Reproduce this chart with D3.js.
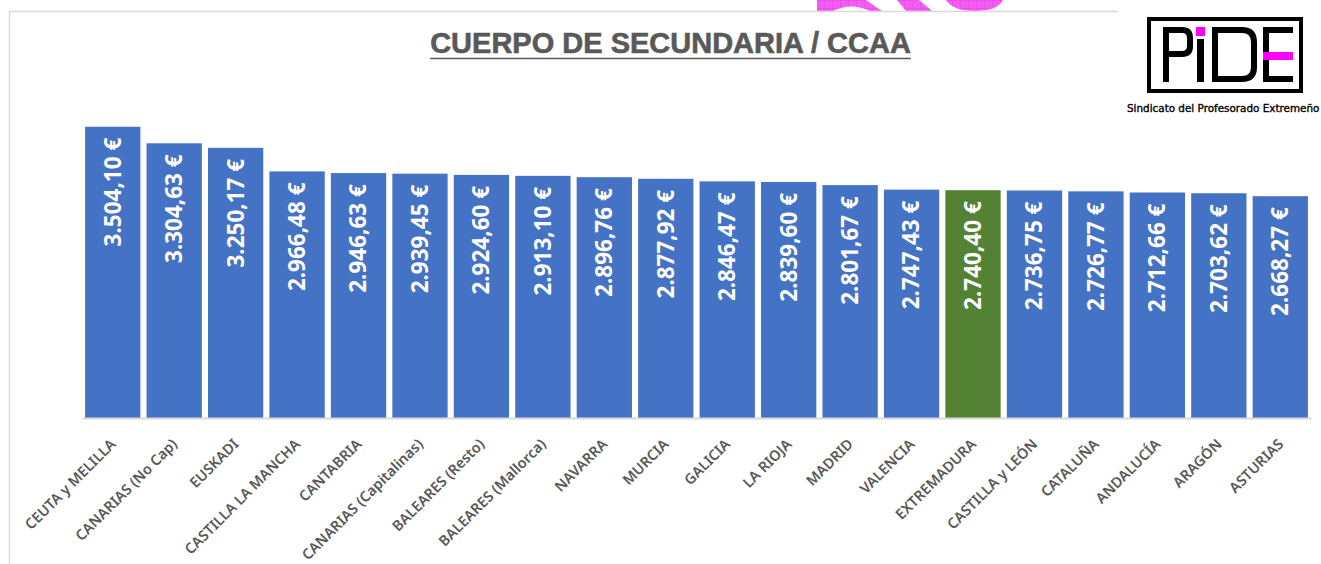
<!DOCTYPE html>
<html>
<head>
<meta charset="utf-8">
<script src="https://cdn.jsdelivr.net/npm/d3@7"></script>
<style>
  body { margin: 0; background: #fff; }
  svg { display: block; }
</style>
</head>
<body>
<script>
// datos: salario mensual cuerpo de secundaria por CCAA
var categories = ["CEUTA y MELILLA", "CANARIAS (No Cap)", "EUSKADI", "CASTILLA LA MANCHA",
                  "CANTABRIA", "CANARIAS (Capitalinas)", "BALEARES (Resto)", "BALEARES (Mallorca)",
                  "NAVARRA", "MURCIA", "GALICIA", "LA RIOJA", "MADRID", "VALENCIA",
                  "EXTREMADURA", "CASTILLA y LEÓN", "CATALUÑA", "ANDALUCÍA", "ARAGÓN", "ASTURIAS"];
var values = [3504.10, 3304.63, 3250.17, 2966.48, 2946.63, 2939.45, 2924.60, 2913.10,
              2896.76, 2877.92, 2846.47, 2839.60, 2801.67, 2747.43, 2740.40, 2736.75,
              2726.77, 2712.66, 2703.62, 2668.27];
var highlight = "EXTREMADURA";
var title = "CUERPO DE SECUNDARIA / CCAA";

var w = 1321, h = 564;
var svg = d3.select("body").append("svg").attr("width", w).attr("height", h);

// trozos rosas de la imagen de fondo (cortados arriba)
var defs = svg.append("defs");
var pat = defs.append("pattern").attr("id", "grid")
  .attr("width", 8).attr("height", 8).attr("patternUnits", "userSpaceOnUse");
pat.append("rect").attr("width", 8).attr("height", 8).attr("fill", "#f45cf4");
pat.append("path").attr("d", "M8,0 L0,0 L0,8").attr("fill", "none")
  .attr("stroke", "#d23fd2").attr("stroke-width", 0.7);
var blobs = ["M817,0 L817,11 L833,11 Q851,2 870,11 L882,11 L866,0 Z",
             "M897,0 L906,11 L932,11 L919,0 Z",
             "M946,0 Q953,11 975,11 Q997,11 1003,0 Z"];
svg.selectAll("path.blob").data(blobs).enter().append("path")
  .attr("class", "blob").attr("d", function(d) { return d; }).attr("fill", "url(#grid)");

// marco del grafico
svg.append("rect").attr("x", 9.5).attr("y", 11.5).attr("width", 1500).attr("height", 700)
  .attr("fill", "none").attr("stroke", "#d9d9d9").attr("stroke-width", 1.5);

// escalas
var x = d3.scaleBand().domain(categories).range([82, 1311]).paddingInner(0.1).paddingOuter(0.05);
var y = d3.scaleLinear().domain([0, 4000]).range([418, 85.5]);

var es = d3.formatLocale({ decimal: ",", thousands: ".", grouping: [3], currency: ["", " €"] });
var fmt = es.format("$,.2f");

// barras
svg.selectAll("rect.bar").data(values).enter().append("rect")
  .attr("class", "bar")
  .attr("x", function(d, i) { return x(categories[i]); })
  .attr("y", function(d) { return y(d); })
  .attr("width", x.bandwidth())
  .attr("height", function(d) { return y(0) - y(d); })
  .attr("fill", function(d, i) { return categories[i] === highlight ? "#548235" : "#4472c4"; });

// etiquetas de valor (verticales)
svg.selectAll("text.val").data(values).enter().append("text")
  .attr("class", "val")
  .attr("transform", function(d, i) {
    return "translate(" + (x(categories[i]) + x.bandwidth() / 2) + "," + (y(d) + 11) + ") rotate(-90)";
  })
  .attr("text-anchor", "end")
  .attr("dy", "0.35em")
  .attr("fill", "#fff")
  .style("font-family", "'Noto Sans', sans-serif")
  .style("font-weight", 700)
  .style("font-size", "22.5px")
  .text(function(d) { return fmt(d); });

// eje x
var axis = svg.append("g").attr("transform", "translate(0,418)")
  .call(d3.axisBottom(x).tickSize(0).tickPadding(0).tickSizeOuter(0));
axis.select(".domain").attr("stroke", "#d9d9d9").attr("stroke-width", 2);
axis.selectAll(".tick text")
  .attr("y", 0).attr("dy", 0)
  .attr("transform", "translate(4,27) rotate(-45)")
  .attr("text-anchor", "end")
  .attr("fill", "#595959")
  .style("font-family", "'Noto Sans', sans-serif")
  .style("font-weight", 600)
  .style("font-size", "14.5px");

// titulo
var t = svg.append("text").attr("x", 670.5).attr("y", 53)
  .attr("text-anchor", "middle")
  .attr("fill", "#595959")
  .style("font-family", "'Liberation Sans', Arial, sans-serif")
  .style("font-weight", 700)
  .style("font-size", "29px")
  .style("stroke", "#595959").style("stroke-width", 0.6)
  .text(title);
var tl = t.node().getComputedTextLength();
svg.append("line").attr("x1", 670.5 - tl / 2).attr("x2", 670.5 + tl / 2)
  .attr("y1", 58.5).attr("y2", 58.5).attr("stroke", "#595959").attr("stroke-width", 1.5);

// logo PIDE
var logo = svg.append("g");
logo.append("rect").attr("x", 1118).attr("y", 0).attr("width", 203).attr("height", 124).attr("fill", "#fff");
logo.append("rect").attr("x", 1149).attr("y", 19).attr("width", 152).attr("height", 72)
  .attr("fill", "none").attr("stroke", "#000").attr("stroke-width", 4);
// P
logo.append("rect").attr("x", 1163).attr("y", 27).attr("width", 6).attr("height", 55).attr("fill", "#000");
logo.append("path").attr("d", "M1166,30 L1182,30 Q1190,30 1190,38 L1190,46 Q1190,54 1182,54 L1166,54")
  .attr("fill", "none").attr("stroke", "#000").attr("stroke-width", 6);
// i
logo.append("rect").attr("x", 1196).attr("y", 27).attr("width", 9).attr("height", 9).attr("fill", "#ff00ff");
logo.append("rect").attr("x", 1197).attr("y", 39).attr("width", 7).attr("height", 43).attr("fill", "#000");
// D
logo.append("path").attr("d", "M1215,30 L1242,30 Q1254,30 1254,42 L1254,67 Q1254,79 1242,79 L1215,79 Z")
  .attr("fill", "none").attr("stroke", "#000").attr("stroke-width", 6);
// E
logo.append("rect").attr("x", 1263).attr("y", 27).attr("width", 6).attr("height", 55).attr("fill", "#000");
logo.append("rect").attr("x", 1263).attr("y", 27).attr("width", 30).attr("height", 6).attr("fill", "#000");
logo.append("rect").attr("x", 1263).attr("y", 76).attr("width", 30).attr("height", 6).attr("fill", "#000");
logo.append("rect").attr("x", 1263).attr("y", 52).attr("width", 30).attr("height", 8).attr("fill", "#ff00ff");
logo.append("text").attr("x", 1127).attr("y", 112)
  .attr("fill", "#000")
  .style("font-family", "'DejaVu Sans', sans-serif")
  .style("font-size", "10.4px")
  .style("stroke", "#000").style("stroke-width", 0.35)
  .text("Sindicato del Profesorado Extremeño");
</script>
</body>
</html>
